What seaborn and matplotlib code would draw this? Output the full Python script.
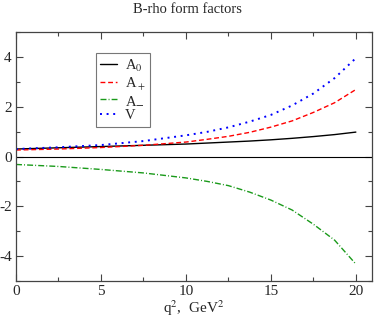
import numpy as np
import pandas as pd
import seaborn as sns
import matplotlib
matplotlib.use('Agg')
import matplotlib.pyplot as plt
from matplotlib.ticker import MultipleLocator

# 读取的数据点 (q^2, GeV^2)
q2 = [0, 2.5, 5, 7.5, 10, 11.25, 12.5, 13.75, 15, 16.25, 17.5, 18.75, 20]
a0 = [0.30, 0.35, 0.40, 0.45, 0.50, 0.54, 0.58, 0.62, 0.67, 0.73, 0.80, 0.88, 0.98]
a_plus = [0.26, 0.30, 0.36, 0.45, 0.58, 0.69, 0.81, 0.97, 1.18, 1.43, 1.77, 2.16, 2.69]
a_minus = [-0.32, -0.40, -0.52, -0.66, -0.86, -1.00, -1.17, -1.43, -1.75, -2.15, -2.72, -3.36, -4.32]
v = [0.30, 0.37, 0.46, 0.62, 0.85, 0.99, 1.17, 1.40, 1.67, 2.05, 2.53, 3.15, 3.95]

labels = ['A$_0$', 'A$_+$', 'A$_{\\mathbf{-}}$', 'V']
colors = ['black', 'red', '#1a9a1a', 'blue']
styles = ['-', (0, (3.5, 2)), (0, (4.3, 1.5, 0.7, 1.5)), (0, (1, 2.4))]
widths = [1.0, 1.0, 1.0, 1.4]

sns.set_style('ticks')
plt.rcParams['font.family'] = ['Liberation Serif', 'DejaVu Serif']
plt.rcParams['mathtext.fontset'] = 'stix'
plt.rcParams['axes.unicode_minus'] = False

fig = plt.figure(figsize=(3.74, 3.2), dpi=100)
ax = fig.add_axes([16 / 374, 1 - 281 / 320, 356 / 374, 249 / 320])

# 零线
ax.axhline(0, color='black', lw=0.8)

for vals, lab, c, ls, lw in zip([a0, a_plus, a_minus, v], labels, colors, styles, widths):
    sns.lineplot(x=q2, y=vals, ax=ax, color=c, linestyle=ls, lw=lw, label=lab)

ax.set_xlim(0, 20.95)
ax.set_ylim(-5, 5)
ax.xaxis.set_major_locator(MultipleLocator(5))
ax.xaxis.set_minor_locator(MultipleLocator(2.5))
ax.yaxis.set_major_locator(MultipleLocator(2))
ax.yaxis.set_minor_locator(MultipleLocator(1))
ax.tick_params(which='both', direction='in', top=True, right=True, labelsize=11, pad=3)
ax.tick_params(which='major', length=5, width=0.8, color='#444444')
ax.tick_params(which='minor', length=3, width=0.8, color='#444444')
for s in ax.spines.values():
    s.set_color('#444444')
    s.set_linewidth(0.9)

ax.set_xlabel('q$^2$,  GeV$^2$', fontsize=11, labelpad=0)
ax.set_ylabel('')
fig.suptitle('B-rho form factors', fontsize=10.5, y=0.99, va='top')

leg = ax.legend(loc='upper left', bbox_to_anchor=(0.225, 0.915), fontsize=10.5,
                frameon=True, fancybox=False, edgecolor='#555555', handlelength=1.1,
                handletextpad=0.6, labelspacing=0.12, borderpad=0.3, borderaxespad=0)
leg.get_frame().set_linewidth(0.8)

plt.savefig('out.png', dpi=100)
